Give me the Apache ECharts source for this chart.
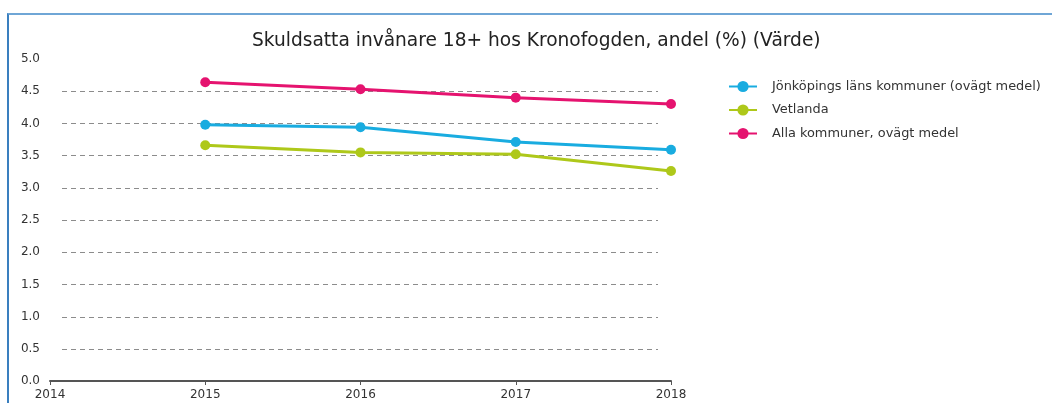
<!DOCTYPE html>
<html>
<head>
<meta charset="utf-8">
<script src="https://cdn.jsdelivr.net/npm/echarts@6/dist/echarts.min.js"></script>
<style>
  html, body { margin: 0; padding: 0; background: #fff; }
  #frame { position: absolute; left: 7px; top: 13px; width: 1100px; height: 500px;
    border-top: 2px solid #6fa6d6; border-left: 2px solid #3a7fbf; box-sizing: border-box; }
  #chart { position: absolute; left: 0; top: 0; width: 1052px; height: 403px; }
</style>
</head>
<body>
<div id="frame"></div>
<div id="chart"></div>
<script>
const YEARS = [2015, 2016, 2017, 2018]
const jonkoping = [3.98, 3.94, 3.71, 3.59]
const vetlanda = [3.66, 3.55, 3.52, 3.26]
const allaKommuner = [4.64, 4.53, 4.40, 4.30]

const NAMES = ['Jönköpings läns kommuner (ovägt medel)', 'Vetlanda', 'Alla kommuner, ovägt medel']
const COLORS = ['#19ace0', '#aec81a', '#e5136f']

let pairs = (vals) => YEARS.map((y, i) => [y, vals[i]])

let chart = echarts.init(document.getElementById('chart'))

let lineSeries = (name, vals, color) => ({
  name: name,
  type: 'line',
  xAxisIndex: 0,
  yAxisIndex: 0,
  data: pairs(vals),
  symbol: 'circle',
  symbolSize: 10,
  color: color,
  lineStyle: { width: 3, color: color },
  itemStyle: { color: color },
  z: 5
})

chart.setOption({
  animation: false,
  textStyle: { fontFamily: 'DejaVu Sans' },
  title: {
    text: 'Skuldsatta invånare 18+ hos Kronofogden, andel (%) (Värde)',
    left: 252,
    top: 32,
    padding: 0,
    textStyle: { fontSize: 18.6, fontWeight: 'normal', color: '#222', fontFamily: 'DejaVu Sans' }
  },
  legend: {
    orient: 'vertical',
    left: 728,
    top: 80,
    padding: 0,
    itemWidth: 28,
    itemHeight: 14,
    itemGap: 10.5,
    data: NAMES,
    textStyle: { fontSize: 12.9, color: '#333', padding: [0, 0, 0, 10] }
  },
  grid: [
    { left: 50, right: 381, top: 59, bottom: 22 },
    // grid used only for the dashed guide lines
    { left: 62, right: 394, top: 91, bottom: 54 }
  ],
  xAxis: [
    {
      type: 'value',
      gridIndex: 0,
      min: 2014,
      max: 2018,
      interval: 1,
      axisLine: { show: true, lineStyle: { color: '#555', width: 2 } },
      axisTick: { show: true, length: 4, lineStyle: { color: '#555' } },
      axisLabel: { color: '#333', fontSize: 12, margin: 8, formatter: v => String(v) },
      splitLine: { show: false }
    },
    { type: 'value', gridIndex: 1, min: 0, max: 1, show: false }
  ],
  yAxis: [
    {
      type: 'value',
      gridIndex: 0,
      min: 0,
      max: 5,
      interval: 0.5,
      axisLine: { show: false },
      axisTick: { show: false },
      axisLabel: { color: '#333', fontSize: 12, margin: 10, formatter: v => v.toFixed(1) },
      splitLine: { show: false }
    },
    {
      type: 'value',
      gridIndex: 1,
      min: 0.5,
      max: 4.5,
      interval: 0.5,
      axisLine: { show: false },
      axisTick: { show: false },
      axisLabel: { show: false },
      splitLine: { show: true, lineStyle: { color: '#8c8c8c', type: [5, 4], width: 1 } }
    }
  ],
  series: [
    lineSeries(NAMES[0], jonkoping, COLORS[0]),
    lineSeries(NAMES[1], vetlanda, COLORS[1]),
    lineSeries(NAMES[2], allaKommuner, COLORS[2])
  ]
})
</script>
</body>
</html>
